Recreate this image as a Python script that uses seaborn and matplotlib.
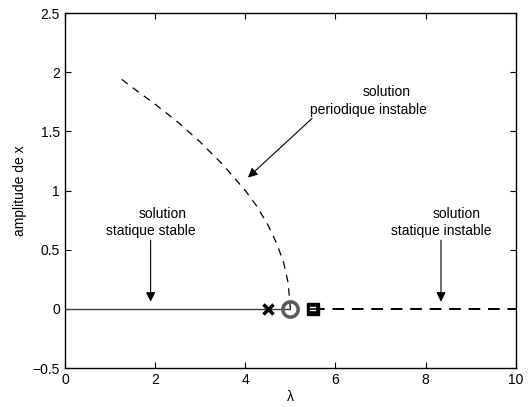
import seaborn as sns
import matplotlib
matplotlib.use("Agg")
import matplotlib.pyplot as plt

# branche periodique instable
lam_per = [1.26, 1.5, 2.0, 2.5, 3.0, 3.5, 4.0, 4.25, 4.5, 4.7, 4.85, 4.95, 5.0]
amp_per = [1.94, 1.87, 1.73, 1.58, 1.41, 1.22, 1.0, 0.87, 0.71, 0.55, 0.39, 0.22, 0.0]

# solutions statiques
lam_stable = [0.0, 5.0]
amp_stable = [0.0, 0.0]
lam_instable = [5.5, 10.0]
amp_instable = [0.0, 0.0]

# points particuliers
lam_cross, lam_circle, lam_square = 4.5, 5.0, 5.5

xticks = [0, 2, 4, 6, 8, 10]
yticks = [-0.5, 0, 0.5, 1, 1.5, 2, 2.5]

sns.set_style("ticks")
plt.rcParams['font.family'] = ['Liberation Sans', 'DejaVu Sans']
plt.rcParams['axes.unicode_minus'] = True
for k in ['text.color', 'axes.labelcolor', 'xtick.color', 'ytick.color', 'axes.edgecolor']:
    plt.rcParams[k] = 'black'

fig = plt.figure(figsize=(5.28, 4.07), dpi=100)
ax = fig.add_axes([0.123, 0.0958, 0.854, 0.872])

sns.lineplot(x=lam_stable, y=amp_stable, ax=ax, color='#404040', lw=1.0)
sns.lineplot(x=lam_per, y=amp_per, ax=ax, color='k', lw=0.9,
             linestyle=(0, (6, 5)))
sns.lineplot(x=lam_instable, y=amp_instable, ax=ax, color='k', lw=1.4,
             linestyle=(0, (6, 4)))

ax.plot([lam_cross], [0], marker='x', color='k', ms=7, mew=2.5, zorder=5)
ax.plot([lam_circle], [0], marker='o', mfc='none', mec='#5a5a5a', ms=11, mew=2.5, zorder=5)
ax.plot([lam_square], [0], marker='s', color='k', ms=8, zorder=5)
ax.plot([lam_square], [0], marker='$=$', color='w', ms=5, mew=0.3, zorder=6)

arrow = dict(arrowstyle='-|>', color='k', lw=0.8, mutation_scale=14, shrinkA=0, shrinkB=0)


def label(x, y, l1, l2, dx):
    ax.text(x + dx, y + 0.075, l1, ha='center', va='center', fontsize=10)
    ax.text(x, y - 0.075, l2, ha='center', va='center', fontsize=10)


ax.annotate("", xy=(1.9, 0.06), xytext=(1.9, 0.58), arrowprops=arrow)
label(1.9, 0.73, "solution", "statique stable", 0.27)
ax.annotate("", xy=(8.34, 0.06), xytext=(8.34, 0.58), arrowprops=arrow)
label(8.34, 0.73, "solution", "statique instable", 0.35)
ax.annotate("", xy=(4.06, 1.11), xytext=(5.48, 1.61), arrowprops=arrow)
label(6.72, 1.76, "solution", "periodique instable", 0.42)

ax.set_xlim(0, 10)
ax.set_ylim(-0.5, 2.5)
ax.set_xticks(xticks)
ax.set_yticks(yticks)
ax.set_xticklabels([f"{t:g}" for t in xticks])
ax.set_yticklabels([f"{t:g}".replace('-', '\u2212') for t in yticks])
ax.tick_params(direction='in', top=True, right=True, length=4, labelsize=10, width=0.8)
for s in ax.spines.values():
    s.set_linewidth(1.0)
    s.set_color('k')
ax.set_xlabel("λ", fontsize=10, labelpad=2)
ax.set_ylabel("amplitude de x", fontsize=10, labelpad=4)

fig.savefig("out.png", dpi=100)
